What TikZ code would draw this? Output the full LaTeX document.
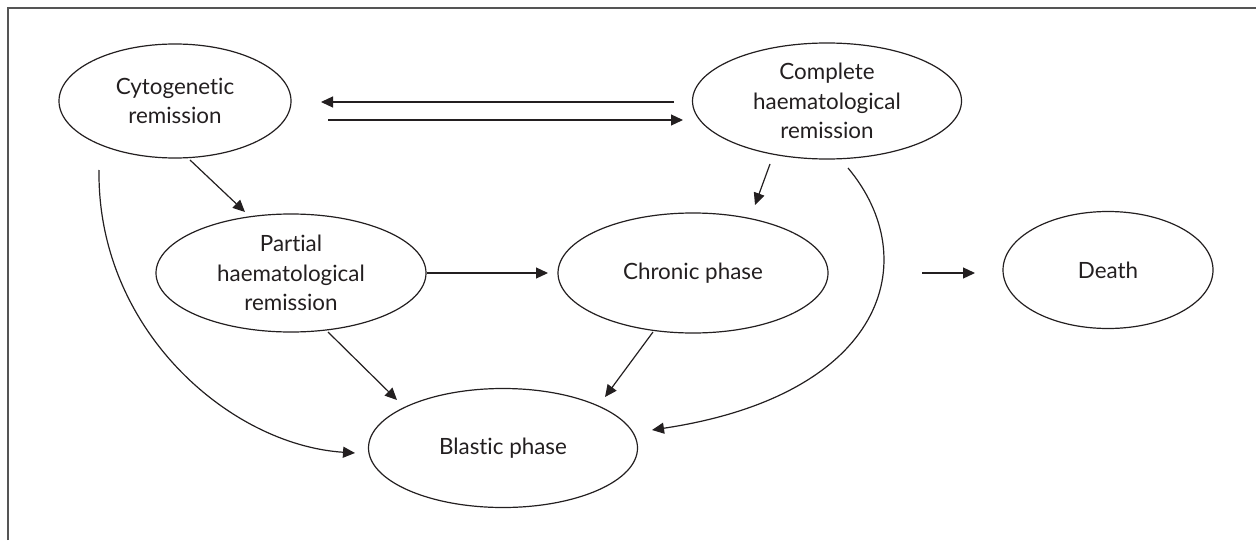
\documentclass[tikz,border=0pt]{standalone}
\usepackage{fontspec}
\setmainfont{Lato}[Ligatures={NoCommon}]
\usetikzlibrary{shapes.geometric,arrows.meta,calc}
\definecolor{ink}{HTML}{231F20}
\definecolor{framegray}{HTML}{555555}
\tikzset{
  state/.style={draw=ink, line width=0.6pt, ellipse, inner sep=0pt, align=center,
    text=ink, font=\fontsize{11.2pt}{14.75pt}\selectfont},
  arr/.style={draw=ink, line width=0.6pt, -{Triangle[length=6pt,width=5.5pt]}},
}
\begin{document}
\begin{tikzpicture}[x=0.5pt, y=-0.5pt]
  \useasboundingbox (0,0) rectangle (1256,540);
  % open frame: top and left edges
  \draw[framegray, line width=1pt] (8,540) -- (8,8) -- (1256,8);

  % states
  \node[state, minimum width=116pt, minimum height=57pt] (cyto) at (175,101)
    {Cytogenetic\\remission};
  \node[state, minimum width=134.5pt, minimum height=58pt] (compl) at (827,101)
    {Complete\\haematological\\remission};
  \node[state, minimum width=135pt, minimum height=59pt] (part) at (291,273)
    {Partial\\haematological\\remission};
  \node[state, minimum width=135pt, minimum height=60pt] (chron) at (693,273)
    {Chronic phase};
  \node[state, minimum width=105pt, minimum height=58.5pt] (death) at (1108,270)
    {Death};
  \node[state, minimum width=134.5pt, minimum height=59.5pt] (blast) at (503,448)
    {Blastic phase};

  % transitions
  \draw[arr] ($(compl)+(-153,1)$) -- ($(cyto)+(146,1)$);
  \draw[arr] ($(cyto)+(153,19)$) -- ($(compl)+(-144,19)$);
  \draw[arr] ($(cyto)+(15,59)$) -- ($(part)+(-46,-61)$);
  \draw[arr] ($(cyto)+(-76,69)$) .. controls (97,330) and (230,445) .. ($(blast)+(-148,5)$);
  \draw[arr] ($(compl)+(-57,63)$) -- ($(chron)+(62,-68)$);
  \draw[arr] ($(compl)+(21,67)$) .. controls (925,260) and (885,395) .. ($(blast)+(149,-18)$);
  \draw[arr] ($(part)+(136,0)$) -- ($(chron)+(-145,0)$);
  \draw[arr] ($(part)+(37,59)$) -- ($(blast)+(-106,-48)$);
  \draw[arr] ($(chron)+(-40,59)$) -- ($(blast)+(102,-51)$);
  \draw[arr] ($(death)+(-186,3)$) -- ($(death)+(-133,3)$);
\end{tikzpicture}
\end{document}
